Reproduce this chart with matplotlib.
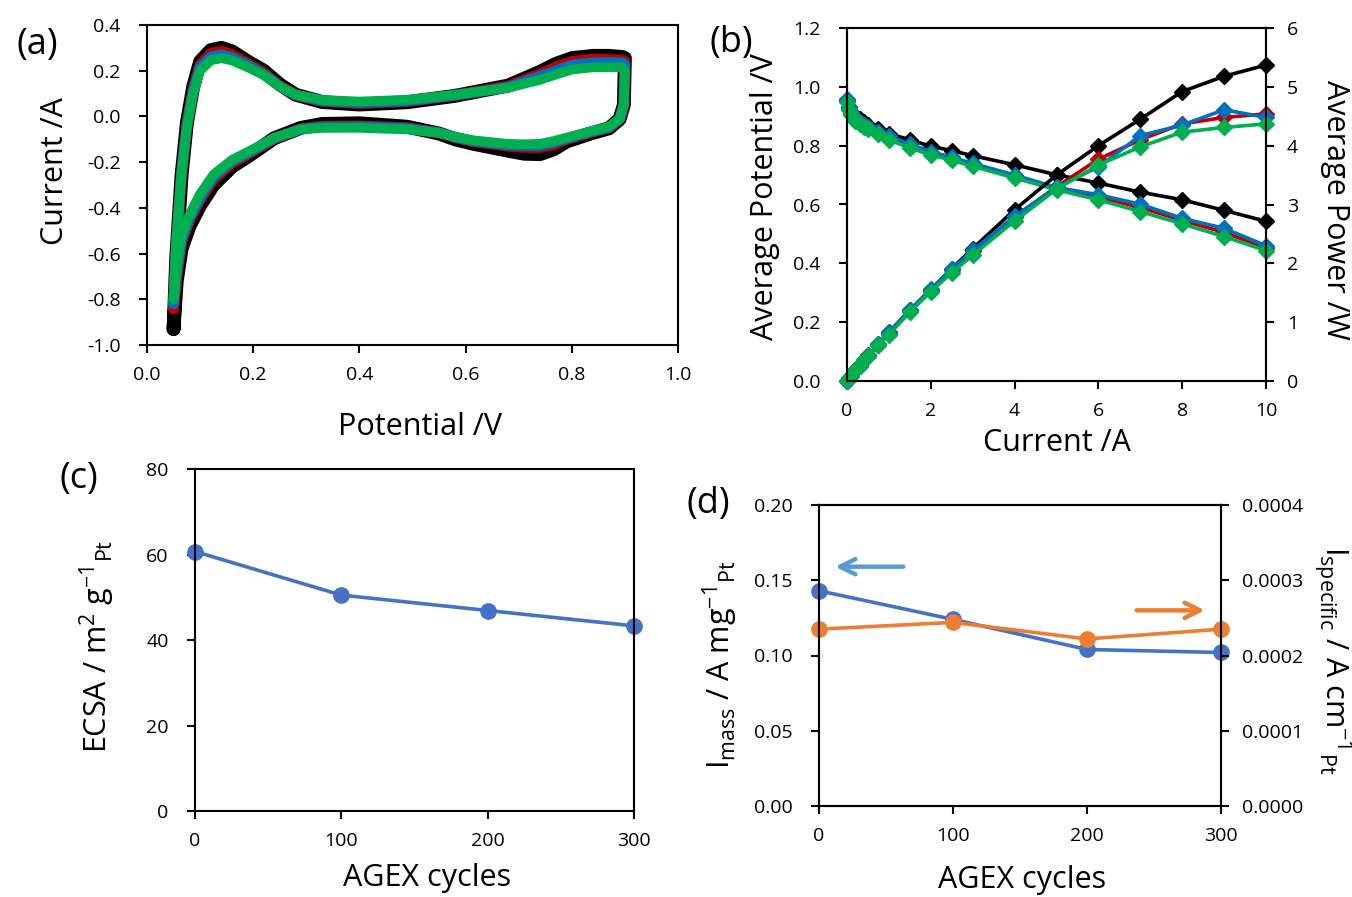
import matplotlib
matplotlib.use('Agg')
import matplotlib.pyplot as plt

plt.rcParams['font.family'] = ['Open Sans', 'DejaVu Sans']
plt.rcParams['mathtext.fontset'] = 'custom'
plt.rcParams['mathtext.rm'] = 'Open Sans'
plt.rcParams['mathtext.it'] = 'Open Sans'
plt.rcParams['mathtext.default'] = 'regular'
plt.rcParams['axes.unicode_minus'] = False

# ---- (a) cyclic voltammograms ----
anodic_v = [0.050, 0.055, 0.065, 0.075, 0.087, 0.100, 0.120, 0.140, 0.160, 0.190, 0.220, 0.250,
            0.280, 0.330, 0.400, 0.490, 0.580, 0.680, 0.740, 0.770, 0.800, 0.840, 0.870, 0.895, 0.900]
cathodic_v = [0.900, 0.898, 0.890, 0.870, 0.835, 0.790, 0.765, 0.740, 0.710, 0.680, 0.615, 0.580, 0.550,
              0.490, 0.400, 0.330, 0.290, 0.240, 0.190, 0.160, 0.125, 0.100, 0.080, 0.065, 0.056, 0.050]

cv_black_an = [-0.93, -0.62, -0.26, -0.03, 0.13, 0.24, 0.29, 0.30, 0.285, 0.24, 0.20, 0.14,
               0.095, 0.063, 0.052, 0.062, 0.09, 0.135, 0.195, 0.23, 0.255, 0.265, 0.265, 0.26, 0.255]
cv_black_ca = [0.255, 0.05, -0.012, -0.052, -0.075, -0.11, -0.145, -0.165, -0.163, -0.15, -0.12, -0.10, -0.075,
               -0.045, -0.03, -0.033, -0.05, -0.095, -0.175, -0.22, -0.30, -0.39, -0.48, -0.58, -0.72, -0.93]
cv_red_an = [-0.84, -0.57, -0.25, -0.035, 0.12, 0.225, 0.275, 0.285, 0.27, 0.232, 0.19, 0.134,
             0.093, 0.066, 0.057, 0.066, 0.092, 0.132, 0.185, 0.215, 0.24, 0.25, 0.248, 0.245, 0.24]
cv_red_ca = [0.24, 0.05, -0.012, -0.05, -0.07, -0.10, -0.125, -0.135, -0.135, -0.13, -0.11, -0.092, -0.072,
             -0.05, -0.042, -0.043, -0.054, -0.097, -0.165, -0.205, -0.275, -0.365, -0.455, -0.55, -0.70, -0.84]
cv_blue_an = [-0.82, -0.56, -0.25, -0.04, 0.11, 0.215, 0.26, 0.27, 0.258, 0.225, 0.185, 0.132,
              0.094, 0.068, 0.060, 0.068, 0.092, 0.128, 0.175, 0.20, 0.225, 0.235, 0.236, 0.235, 0.225]
cv_blue_ca = [0.225, 0.05, -0.012, -0.048, -0.068, -0.097, -0.115, -0.128, -0.128, -0.125, -0.108, -0.09, -0.071,
              -0.052, -0.045, -0.046, -0.055, -0.095, -0.16, -0.197, -0.265, -0.355, -0.445, -0.54, -0.68, -0.82]
cv_green_an = [-0.80, -0.55, -0.25, -0.05, 0.10, 0.20, 0.245, 0.255, 0.245, 0.215, 0.180, 0.130,
               0.095, 0.072, 0.065, 0.073, 0.095, 0.125, 0.160, 0.183, 0.205, 0.215, 0.215, 0.215, 0.200]
cv_green_ca = [0.200, 0.050, -0.010, -0.045, -0.065, -0.093, -0.108, -0.120, -0.122, -0.120, -0.105, -0.090, -0.072,
               -0.057, -0.050, -0.050, -0.057, -0.093, -0.155, -0.190, -0.255, -0.340, -0.430, -0.520, -0.660, -0.800]

# ---- (b) polarisation / power ----
current = [0, 0.05, 0.1, 0.2, 0.3, 0.4, 0.5, 0.75, 1.0, 1.5, 2, 2.5, 3, 4, 5, 6, 7, 8, 9, 10]
pot_black = [0.955, 0.93, 0.915, 0.90, 0.89, 0.88, 0.87, 0.855, 0.841, 0.82, 0.798, 0.783, 0.766, 0.735,
             0.701, 0.673, 0.642, 0.616, 0.580, 0.543]
pot_red = [0.955, 0.925, 0.91, 0.89, 0.88, 0.87, 0.86, 0.845, 0.828, 0.80, 0.775, 0.755, 0.737, 0.697,
           0.655, 0.625, 0.59, 0.546, 0.505, 0.452]
pot_blue = [0.96, 0.93, 0.915, 0.895, 0.88, 0.87, 0.862, 0.848, 0.832, 0.805, 0.78, 0.76, 0.74, 0.70,
            0.658, 0.633, 0.601, 0.553, 0.519, 0.46]
pot_green = [0.95, 0.92, 0.905, 0.885, 0.875, 0.865, 0.856, 0.84, 0.82, 0.792, 0.769, 0.75, 0.73, 0.69,
             0.65, 0.616, 0.576, 0.534, 0.491, 0.443]
pow_black = [0, 0.047, 0.092, 0.18, 0.27, 0.35, 0.435, 0.61, 0.81, 1.20, 1.55, 1.91, 2.25, 2.91,
             3.50, 4.00, 4.45, 4.92, 5.18, 5.37]
pow_red = [0, 0.046, 0.09, 0.18, 0.26, 0.35, 0.43, 0.63, 0.83, 1.20, 1.55, 1.89, 2.21, 2.79,
           3.30, 3.77, 4.10, 4.37, 4.48, 4.54]
pow_blue = [0, 0.046, 0.09, 0.18, 0.26, 0.35, 0.43, 0.63, 0.83, 1.21, 1.56, 1.90, 2.22, 2.80,
            3.29, 3.64, 4.17, 4.35, 4.61, 4.48]
pow_green = [0, 0.046, 0.09, 0.18, 0.26, 0.35, 0.43, 0.62, 0.79, 1.17, 1.52, 1.84, 2.14, 2.72,
             3.26, 3.67, 3.98, 4.23, 4.31, 4.37]

# ---- (c) ECSA, (d) activities ----
cycles = [0, 100, 200, 300]
ecsa = [60.7, 50.5, 46.9, 43.3]
i_mass = [0.143, 0.124, 0.104, 0.102]
i_specific = [0.000235, 0.000244, 0.000222, 0.000235]

BLACK, RED, BLUE, GREEN = 'black', '#C00000', '#0070C0', '#00B050'
XL_BLUE, XL_ORANGE, XL_LBLUE = '#4472C4', '#ED7D31', '#5B9BD5'

TICK_FS = 14
LABEL_FS = 22

fig = plt.figure(figsize=(13.52, 8.97), dpi=100)


def px_axes(l, t, r, b):
    W, H = 1352, 897
    return fig.add_axes([l / W, 1 - b / H, (r - l) / W, (b - t) / H])


def style(ax, left_pad=13, bottom_pad=9):
    for s in ax.spines.values():
        s.set_linewidth(1.5)
    ax.tick_params(direction='out', length=6, width=1.5, labelsize=TICK_FS, top=False, right=False)
    ax.tick_params(axis='y', pad=left_pad)
    ax.tick_params(axis='x', pad=bottom_pad)


# (a)
ax_a = px_axes(147, 25, 678, 345)
cv_sets = [(cv_black_an, cv_black_ca, BLACK, 10),
           (cv_red_an, cv_red_ca, RED, 8),
           (cv_blue_an, cv_blue_ca, BLUE, 7.5),
           (cv_green_an, cv_green_ca, GREEN, 7)]
for an, ca, col, lw in cv_sets:
    ax_a.plot(anodic_v + cathodic_v, an + ca, color=col, lw=lw,
              solid_capstyle='round', solid_joinstyle='round')
ax_a.set_xlim(0, 1.0)
ax_a.set_ylim(-1.0, 0.4)
ax_a.set_xticks([0, 0.2, 0.4, 0.6, 0.8, 1.0])
ax_a.set_yticks([-1.0, -0.8, -0.6, -0.4, -0.2, 0.0, 0.2, 0.4])
ax_a.xaxis.set_major_formatter(matplotlib.ticker.FormatStrFormatter('%.1f'))
ax_a.yaxis.set_major_formatter(matplotlib.ticker.FormatStrFormatter('%.1f'))
style(ax_a)
ax_a.set_xlabel('Potential /V', fontsize=LABEL_FS, va='center')
ax_a.xaxis.set_label_coords(0.514, -0.256)
ax_a.set_ylabel('Current /A', fontsize=LABEL_FS, va='center')
ax_a.yaxis.set_label_coords(-0.173, 0.544)

# (b)
ax_b = px_axes(847, 28, 1266, 381)
ax_b2 = ax_b.twinx()
for pot, pw, col in [(pot_black, pow_black, BLACK), (pot_red, pow_red, RED),
                     (pot_blue, pow_blue, BLUE), (pot_green, pow_green, GREEN)]:
    ax_b.plot(current, pot, color=col, lw=2.6, marker='D', markersize=8, clip_on=False)
    ax_b2.plot(current, pw, color=col, lw=2.6, marker='D', markersize=8, clip_on=False)
ax_b.set_xlim(0, 10)
ax_b.set_ylim(0, 1.2)
ax_b2.set_ylim(0, 6)
ax_b.set_xticks([0, 2, 4, 6, 8, 10])
ax_b.set_yticks([0, 0.2, 0.4, 0.6, 0.8, 1.0, 1.2])
ax_b.yaxis.set_major_formatter(matplotlib.ticker.FormatStrFormatter('%.1f'))
ax_b2.set_yticks([0, 1, 2, 3, 4, 5, 6])
style(ax_b)
for s in ax_b2.spines.values():
    s.set_linewidth(1.5)
ax_b2.tick_params(direction='out', length=6, width=1.5, labelsize=TICK_FS, pad=9)
ax_b.set_xlabel('Current /A', fontsize=LABEL_FS, va='center')
ax_b.xaxis.set_label_coords(0.5, -0.176)
ax_b.set_ylabel('Average Potential /V', fontsize=LABEL_FS, va='center')
ax_b.yaxis.set_label_coords(-0.196, 0.521)
ax_b2.set_ylabel('Average Power /W', fontsize=LABEL_FS, rotation=270, va='center')
ax_b2.yaxis.set_label_coords(1.165, 0.484)

# (c)
ax_c = px_axes(195, 469, 634, 811)
ax_c.plot(cycles, ecsa, color=XL_BLUE, lw=2.6, marker='o', markersize=11, clip_on=False)
ax_c.set_xlim(0, 300)
ax_c.set_ylim(0, 80)
ax_c.set_xticks(cycles)
ax_c.set_yticks([0, 20, 40, 60, 80])
style(ax_c)
ax_c.set_xlabel('AGEX cycles', fontsize=LABEL_FS, va='center')
ax_c.xaxis.set_label_coords(0.528, -0.196)
ax_c.set_ylabel(r'ECSA / m$^{2}$ g$^{-1}$$_{Pt}$', fontsize=LABEL_FS, va='center')
ax_c.yaxis.set_label_coords(-0.223, 0.482)

# (d)
ax_d = px_axes(819, 505, 1221, 806)
ax_d2 = ax_d.twinx()
ax_d.plot(cycles, i_mass, color=XL_BLUE, lw=2.6, marker='o', markersize=11, clip_on=False, zorder=3)
ax_d2.plot(cycles, i_specific, color=XL_ORANGE, lw=2.6, marker='o', markersize=11, clip_on=False)
ax_d.set_xlim(0, 300)
ax_d.set_ylim(0, 0.20)
ax_d2.set_ylim(0, 0.0004)
ax_d.set_xticks(cycles)
ax_d.set_yticks([0, 0.05, 0.10, 0.15, 0.20])
ax_d.yaxis.set_major_formatter(matplotlib.ticker.FormatStrFormatter('%.2f'))
ax_d2.set_yticks([0, 0.0001, 0.0002, 0.0003, 0.0004])
ax_d2.yaxis.set_major_formatter(matplotlib.ticker.FormatStrFormatter('%.4f'))
style(ax_d)
for s in ax_d2.spines.values():
    s.set_linewidth(1.5)
ax_d2.tick_params(direction='out', length=6, width=1.5, labelsize=TICK_FS, pad=9)
ax_d.annotate('', xy=(10, 0.159), xytext=(65, 0.159),
              arrowprops=dict(arrowstyle='->,head_length=1.1,head_width=0.55', color=XL_LBLUE, lw=3.2))
ax_d.annotate('', xy=(290, 0.130), xytext=(235, 0.130),
              arrowprops=dict(arrowstyle='->,head_length=1.1,head_width=0.55', color=XL_ORANGE, lw=3.2))
ax_d.set_xlabel('AGEX cycles', fontsize=LABEL_FS, va='center')
ax_d.xaxis.set_label_coords(0.505, -0.246)
ax_d.set_ylabel(r'I$_{mass}$ / A mg$^{-1}$$_{Pt}$', fontsize=LABEL_FS, va='center')
ax_d.yaxis.set_label_coords(-0.246, 0.468)
ax_d2.set_ylabel(r'I$_{specific}$ / A cm$^{-1}$$_{Pt}$', fontsize=LABEL_FS, rotation=270, va='center')
ax_d2.yaxis.set_label_coords(1.279, 0.485)

# panel letters
for lab, x, y in [('(a)', 37, 45), ('(b)', 731, 43), ('(c)', 79, 479), ('(d)', 708, 504)]:
    fig.text(x / 1352, 1 - y / 897, lab, fontsize=26, ha='center', va='center')

fig.savefig('out.png', dpi=100)
